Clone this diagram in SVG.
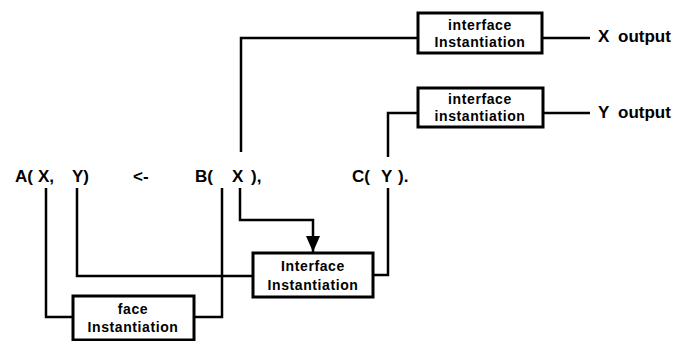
<svg xmlns="http://www.w3.org/2000/svg" width="694" height="341" viewBox="0 0 694 341">
<style>
.box{fill:#fff;stroke:#000;stroke-width:3}
.ln{fill:none;stroke:#000;stroke-width:2.5}
.bt{font-family:"Liberation Sans",Arial,sans-serif;font-weight:bold;font-size:14px;letter-spacing:0.6px;text-anchor:middle}
.lt{font-family:"Liberation Sans",Arial,sans-serif;font-weight:bold;font-size:17px}
</style>
<defs>
<marker id="ah" markerWidth="16" markerHeight="14" refX="16" refY="7" orient="auto" markerUnits="userSpaceOnUse" viewBox="0 0 16 14">
<path d="M0,0 L16,7 L0,14 Z" fill="#000"/>
</marker>
</defs>
<rect width="694" height="341" fill="#fff"/>
<g id="connectors">
<path class="ln" d="M241,152 V38 H418"/>
<path class="ln" d="M542,38 H590"/>
<path class="ln" d="M388,157 V113 H418"/>
<path class="ln" d="M543,113 H590"/>
<path class="ln" d="M46,188 V317 H73"/>
<path class="ln" d="M77,188 V276 H253"/>
<path class="ln" d="M222,188 V317 H194"/>
<path class="ln" d="M240,188 V220 H313 V252" marker-end="url(#ah)"/>
<path class="ln" d="M388,188 V275 H373"/>
</g>
<g id="labels">
<text class="lt" y="182"><tspan x="15">A(</tspan><tspan x="38">X,</tspan><tspan x="72">Y)</tspan></text>
<text class="lt" x="133" y="182">&lt;-</text>
<text class="lt" y="182"><tspan x="195">B(</tspan><tspan x="232">X</tspan><tspan x="251">),</tspan></text>
<text class="lt" y="182"><tspan x="352">C(</tspan><tspan x="381">Y</tspan><tspan x="398">).</tspan></text>
<text class="lt" y="42"><tspan x="598">X</tspan><tspan x="618">output</tspan></text>
<text class="lt" y="118"><tspan x="598">Y</tspan><tspan x="618">output</tspan></text>
</g>
<g id="box1">
<rect class="box" x="418" y="13" width="124" height="40"/>
<text class="bt" x="480" y="30">interface</text>
<text class="bt" x="480" y="47">Instantiation</text>
</g>
<g id="box2">
<rect class="box" x="418" y="88" width="125" height="39"/>
<text class="bt" x="480" y="104">interface</text>
<text class="bt" x="480" y="121">instantiation</text>
</g>
<g id="box3">
<rect class="box" x="253" y="253" width="120" height="44"/>
<text class="bt" x="313" y="271">Interface</text>
<text class="bt" x="313" y="290">Instantiation</text>
</g>
<g id="box4">
<rect class="box" x="73" y="296" width="121" height="44"/>
<text class="bt" x="133" y="314">face</text>
<text class="bt" x="133" y="332">Instantiation</text>
</g>
</svg>
